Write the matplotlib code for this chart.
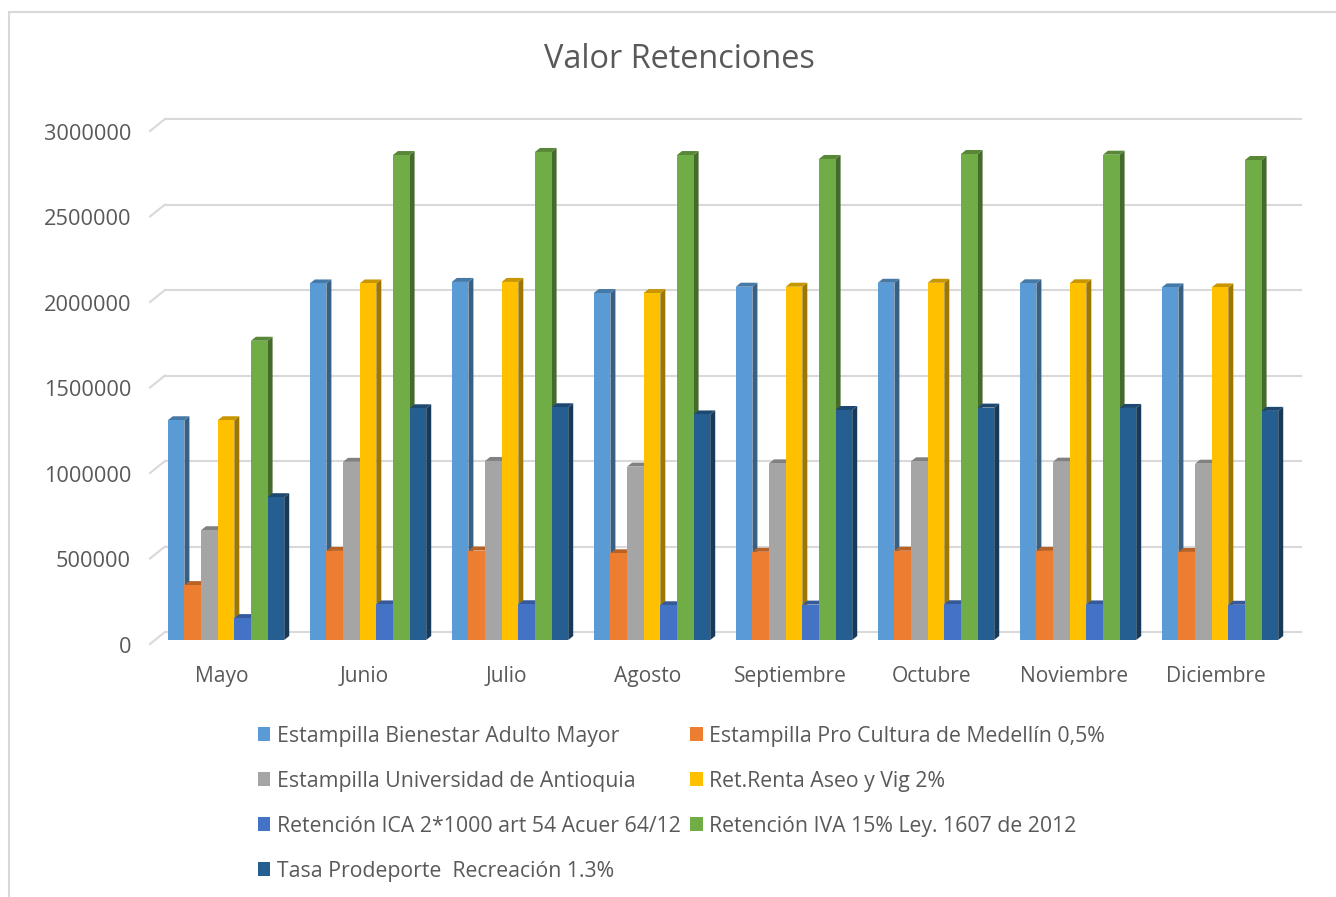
import numpy as np
import matplotlib
matplotlib.use("Agg")
from matplotlib import pyplot as plt
from matplotlib.patches import Polygon, Patch, Rectangle
from matplotlib.transforms import ScaledTranslation
from matplotlib.colors import to_rgb

plt.rcParams['font.family'] = ['Open Sans', 'DejaVu Sans']

months = ['Mayo', 'Junio', 'Julio', 'Agosto', 'Septiembre', 'Octubre', 'Noviembre', 'Diciembre']

bienestar = [1285000, 2085000, 2094000, 2029000, 2066000, 2089000, 2086000, 2062000]
pro_cultura = [321000, 521000, 523000, 507000, 516000, 522000, 521000, 515000]
universidad = [642000, 1042000, 1047000, 1014000, 1033000, 1045000, 1043000, 1031000]
renta_aseo = [1285000, 2085000, 2094000, 2029000, 2066000, 2089000, 2086000, 2062000]
ica = [128000, 208000, 209000, 203000, 207000, 209000, 208000, 206000]
iva = [1750000, 2836000, 2854000, 2836000, 2813000, 2842000, 2838000, 2807000]
prodeporte = [835000, 1355000, 1361000, 1319000, 1345000, 1359000, 1357000, 1340000]

series_names = [
    'Estampilla Bienestar Adulto Mayor',
    'Estampilla Pro Cultura de Medellín 0,5%',
    'Estampilla Universidad de Antioquia',
    'Ret.Renta Aseo y Vig 2%',
    'Retención ICA 2*1000 art 54 Acuer 64/12',
    'Retención IVA 15% Ley. 1607 de 2012',
    'Tasa Prodeporte  Recreación 1.3%',
]
series = [bienestar, pro_cultura, universidad, renta_aseo, ica, iva, prodeporte]
colors = ['#5B9BD5', '#ED7D31', '#A5A5A5', '#FFC000', '#4472C4', '#70AD47', '#255E91']

yticks = [0, 500000, 1000000, 1500000, 2000000, 2500000, 3000000]

W, H, DPI = 1336, 897, 100
fig = plt.figure(figsize=(W / DPI, H / DPI), dpi=DPI)

# axes placed in pixel terms (front plane of the bars)
left_px, right_px, bottom_px, top_px = 155, 1291, 640, 127
ax = fig.add_axes([left_px / W, 1 - bottom_px / H,
                   (right_px - left_px) / W, (bottom_px - top_px) / H])
ax.set_xlim(-0.5, len(months) - 0.5)
ax.set_ylim(0, 3000000)
ax.axis('off')

px_x = (right_px - left_px) / len(months)      # pixels per category
px_y = (bottom_px - top_px) / 3000000          # pixels per unit value

def shift(dx, dy):
    return ax.transData + ScaledTranslation(dx / DPI, dy / DPI, fig.dpi_scale_trans)

grid_c = '#D9D9D9'
front = shift(-5, -4)
back = shift(10, 8)
for v in yticks:
    # slanted piece on the floor side, then along the back wall
    p0 = front.transform((-0.5, v))
    p1 = back.transform((-0.5, v))
    fig.add_artist(plt.Line2D([p0[0] / W, p1[0] / W], [p0[1] / H, p1[1] / H],
                              color=grid_c, lw=1.5, transform=fig.transFigure))
    ax.plot([-0.5, len(months) - 0.5], [v, v], color=grid_c, lw=1.5,
            transform=back, clip_on=False, zorder=0)
    ax.text(-0.5, v, f'{v}', transform=shift(-24, -7), ha='right', va='center',
            fontsize=15.7, color='#595959')

# 3D-ish clustered bars
group_w = 0.82
n = len(series)
bw = group_w / n
ddx = 5 / px_x
ddy = 4 / px_y

def shade(c, f):
    r, g, b = to_rgb(c)
    return (r * f, g * f, b * f)

x = np.arange(len(months))
z = 2
for i in range(len(months)):
    for j, (vals, c) in enumerate(zip(series, colors)):
        x0 = x[i] - group_w / 2 + j * bw
        x1 = x0 + bw
        h = vals[i]
        side = Polygon([(x1, 0), (x1 + ddx, ddy), (x1 + ddx, h + ddy), (x1, h)],
                       closed=True, facecolor=shade(c, 0.62), edgecolor='none',
                       zorder=z, clip_on=False)
        top = Polygon([(x0, h), (x1, h), (x1 + ddx, h + ddy), (x0 + ddx, h + ddy)],
                      closed=True, facecolor=shade(c, 0.78), edgecolor='none',
                      zorder=z, clip_on=False)
        ax.add_patch(side)
        ax.add_patch(top)
        ax.bar(x0, h, width=bw, align='edge', color=c, zorder=z + 1, clip_on=False)
        z += 2

for i, m in enumerate(months):
    ax.text(x[i], 0, m, transform=shift(-4, -36), ha='center', va='center',
            fontsize=15.1, color='#595959')

fig.text(679 / W, 1 - 59 / H, 'Valor Retenciones', ha='center', va='center',
         fontsize=23.4, color='#595959')

# legend, row-wise order as in Excel
handles = [Patch(facecolor=c, edgecolor='none') for c in colors]
order = [0, 2, 4, 6, 1, 3, 5]
leg = fig.legend([handles[k] for k in order], [series_names[k] for k in order],
                 ncol=2, loc='upper left', bbox_to_anchor=(247 / W, 1 - 715 / H),
                 frameon=False, fontsize=15.3, labelcolor='#595959',
                 handlelength=0.6, handleheight=0.6, handletextpad=0.3,
                 columnspacing=0.45, labelspacing=1.13, borderpad=0)

# chart area border
fig.add_artist(Rectangle((9 / W, -0.1), 1.2, 1.1 - 12 / H, transform=fig.transFigure,
                         fill=False, edgecolor='#D9D9D9', lw=1.5))

fig.savefig('out.png', dpi=DPI)
